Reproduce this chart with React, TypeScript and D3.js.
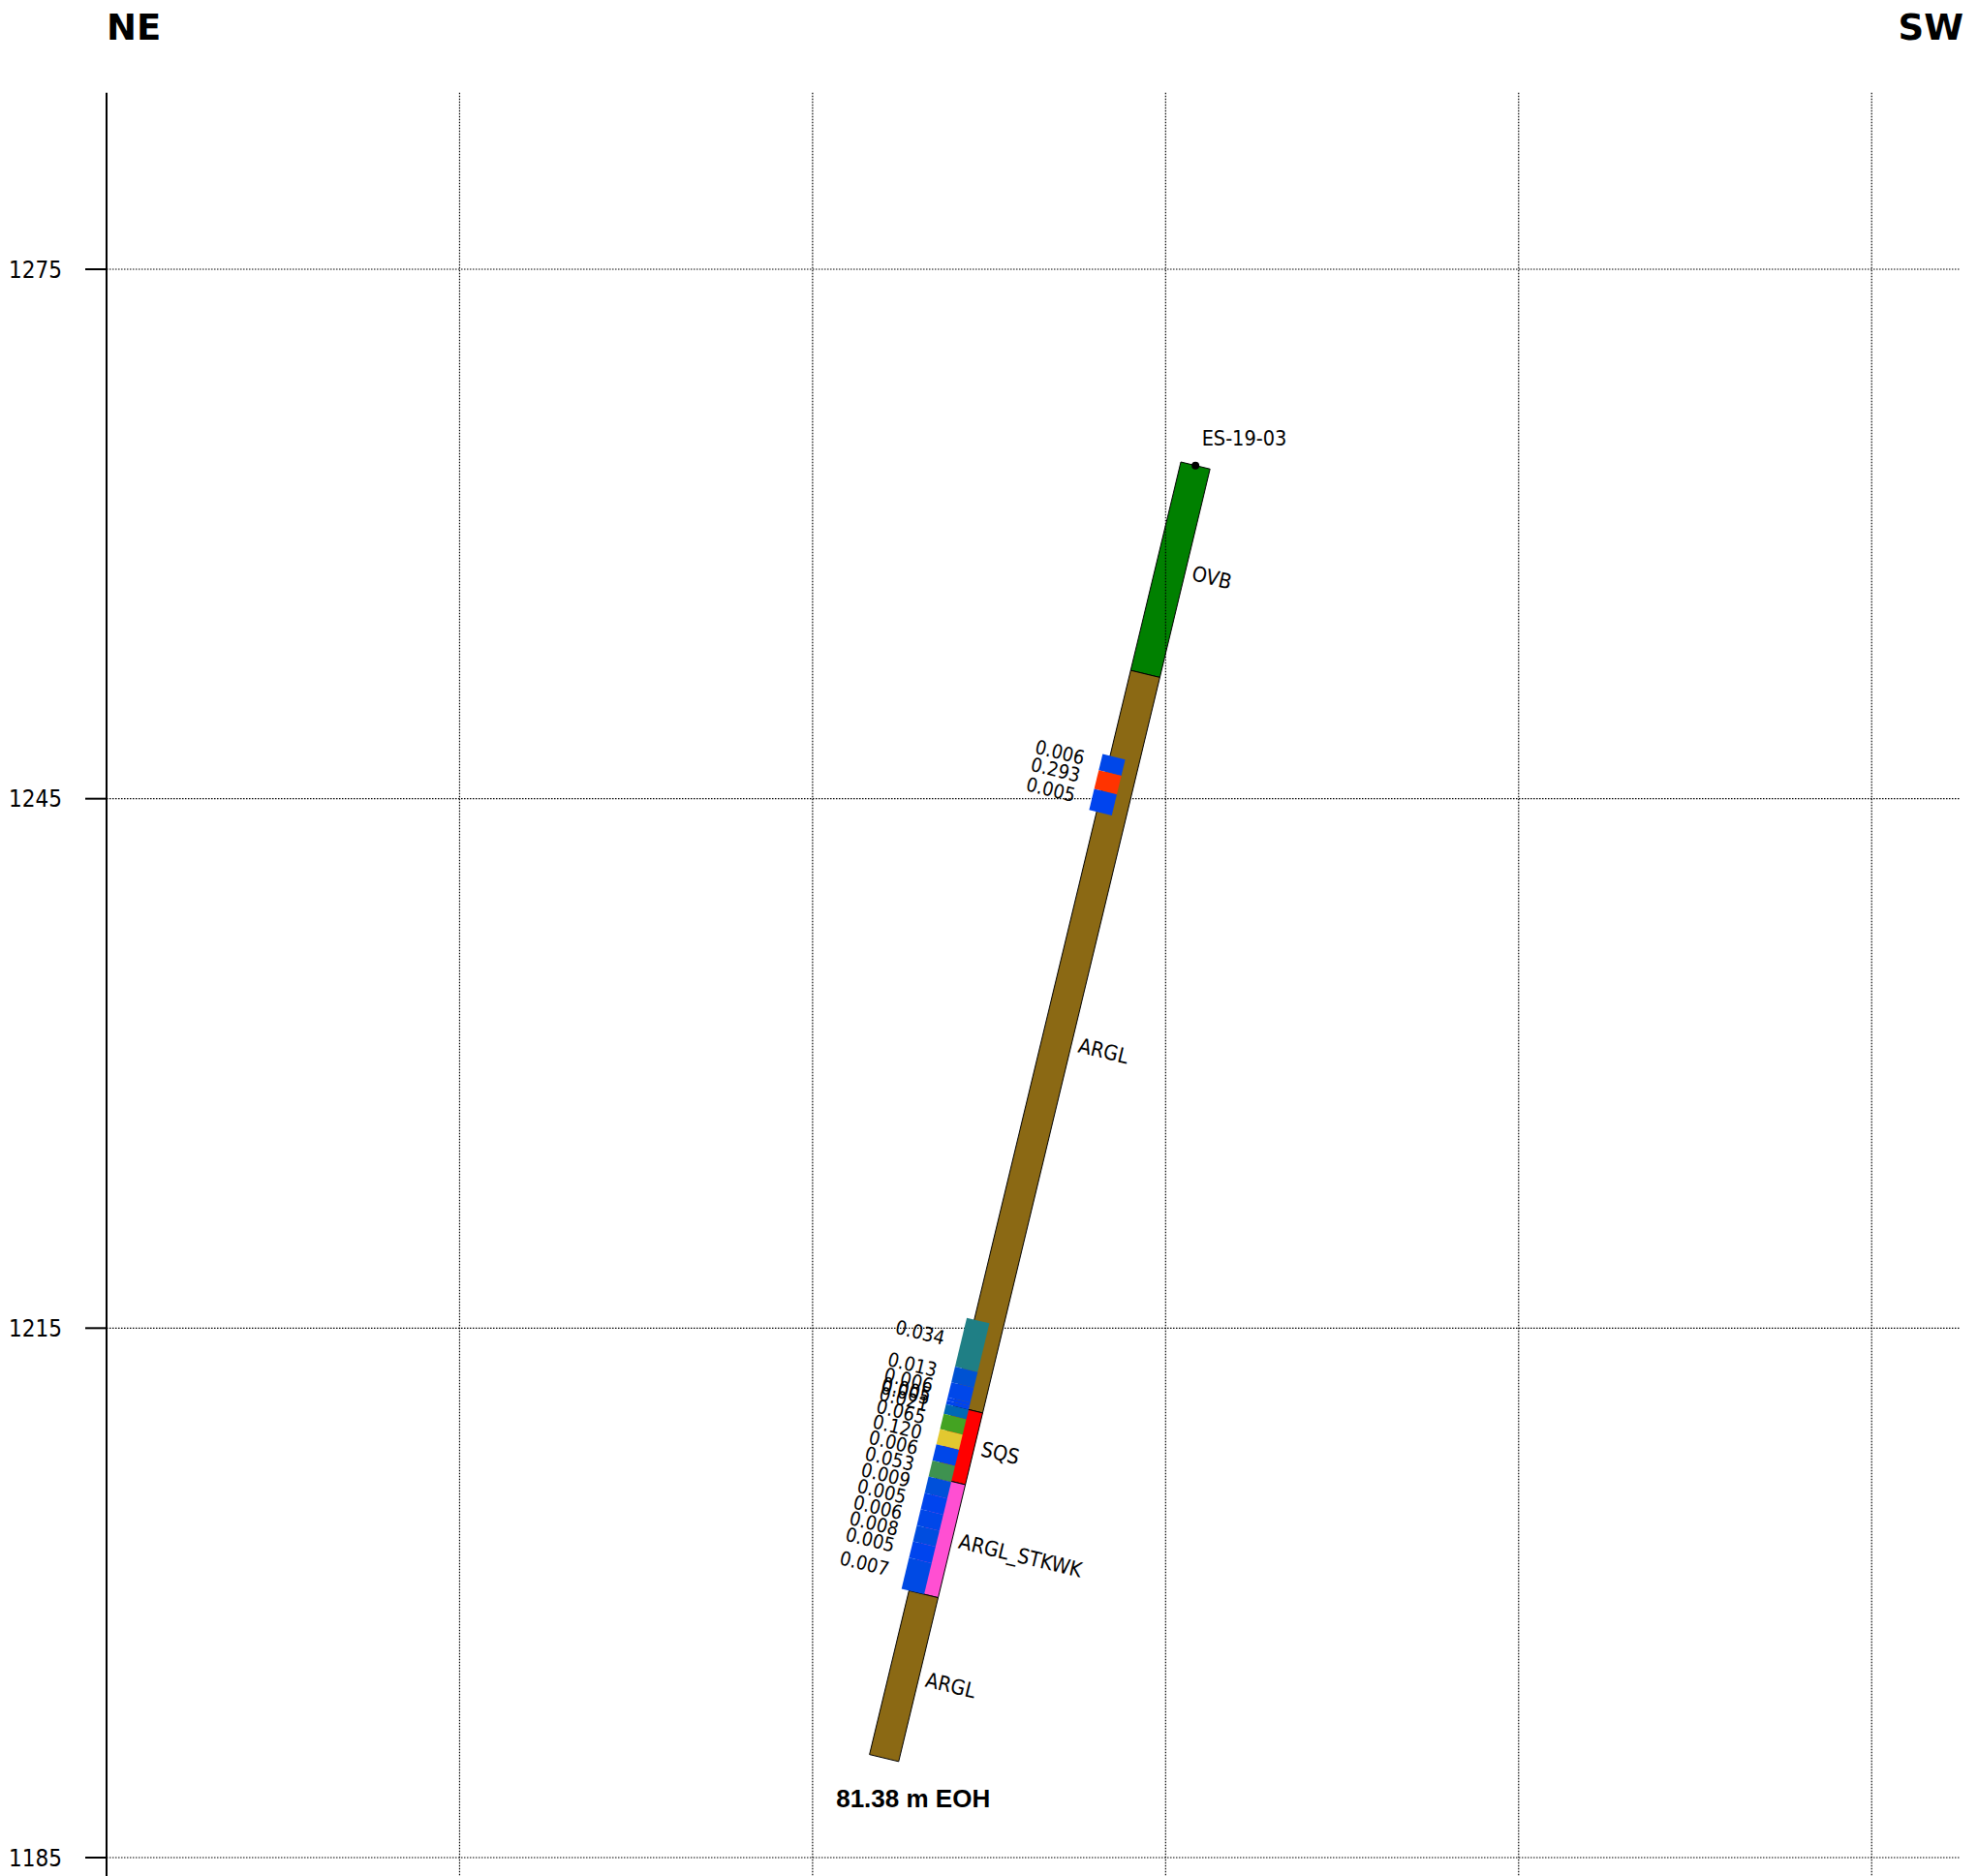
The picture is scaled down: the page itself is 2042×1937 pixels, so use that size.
import React from 'react';
import * as d3 from 'd3';

const W = 2042;
const H = 1937;

// Axis / grid values
const elevTicks = [1185, 1215, 1245, 1275];
const distGrid = [0, 20, 40, 60, 80, 100];
const elevDomain = [1185, 1275];
const distDomain = [0, 105];
const elevTop = 1285;

// Drill hole
const holeId = 'ES-19-03';
const holeLength = 81.38;
const collarDist = 61.69;
const collarElev = 1263.88;
const eohDist = 44.05;
const eohElev = 1190.64;

// Lithology intervals (m along hole)
const lithFrom = [0, 13.12, 59.43, 63.95, 71.06];
const lithTo = [13.12, 59.43, 63.95, 71.06, 81.38];
const lithCode = ['OVB', 'ARGL', 'SQS', 'ARGL_STKWK', 'ARGL'];
const lithColor: Record<string, string> = {
  OVB: '#008000',
  ARGL: '#8B6914',
  SQS: '#FF0000',
  ARGL_STKWK: '#FF4FD2',
};

// Assay intervals (m along hole) and values
const assayFrom = [18.5, 19.52, 20.7, 54.0, 57.07, 58.05, 59.0, 59.2, 59.43, 60.04, 61.0, 61.96, 62.98, 63.99, 65.03, 66.05, 67.06, 68.07, 69.1];
const assayTo = [19.52, 20.7, 22.02, 57.07, 58.05, 59.0, 59.2, 59.43, 60.04, 61.0, 61.96, 62.98, 63.99, 65.03, 66.05, 67.06, 68.07, 69.1, 71.06];
const assayValue = [0.006, 0.293, 0.005, 0.034, 0.013, 0.006, 0.005, 0.005, 0.021, 0.065, 0.12, 0.006, 0.053, 0.009, 0.005, 0.006, 0.008, 0.005, 0.007];

// Assay colour ramp
const rampStops = [0.005, 0.009, 0.013, 0.021, 0.034, 0.053, 0.065, 0.12, 0.293];
const rampColors = ['#0044EE', '#0050DA', '#0052D2', '#0068B4', '#1F7F85', '#3E9250', '#44A322', '#E2C830', '#FF3300'];

const FONT = "'DejaVu Sans Condensed', 'DejaVu Sans', sans-serif";

export default function App() {
  const x = d3.scaleLinear().domain(distDomain).range([110, 110 + 105 * (1640 / 90)]);
  const y = d3.scaleLinear().domain(elevDomain).range([1918, 278]);
  const color = d3.scaleLinear<string>().domain(rampStops).range(rampColors).clamp(true);

  const c = [x(collarDist), y(collarElev)];
  const e = [x(eohDist), y(eohElev)];
  const len = Math.hypot(e[0] - c[0], e[1] - c[1]);
  const u = [(e[0] - c[0]) / len, (e[1] - c[1]) / len];
  const n = [u[1], -u[0]]; // perpendicular pointing right (SW)
  const angle = (Math.atan2(n[1], n[0]) * 180) / Math.PI;

  const pos = (d: number, off: number) => {
    const t = d / holeLength;
    return [c[0] + (e[0] - c[0]) * t + n[0] * off, c[1] + (e[1] - c[1]) * t + n[1] * off];
  };
  const poly = (d1: number, d2: number, a: number, b: number) =>
    [pos(d1, a), pos(d1, b), pos(d2, b), pos(d2, a)].map((p) => p.join(',')).join(' ');

  const plotLeft = x(0);
  const plotRight = x(105);
  const plotTop = y(elevTop);

  const halfW = 15.5;

  return (
    <svg width={W} height={H} style={{ position: 'absolute', left: 0, top: 0, background: '#fff' }} fontFamily={FONT}>
      <rect x={0} y={0} width={W} height={H} fill="#fff" />
      {/* horizontal grid */}
      {elevTicks.map((t) => (
        <line key={'h' + t} x1={plotLeft} x2={plotRight} y1={y(t)} y2={y(t)} stroke="#000" strokeWidth={1.2} strokeDasharray="1.5,1.5" />
      ))}

      {/* lithology */}
      {lithCode.map((code, i) => (
        <polygon key={'l' + i} points={poly(lithFrom[i], lithTo[i], -halfW, halfW)} fill={lithColor[code]} stroke="#000" strokeWidth={1} />
      ))}
      {/* assays */}
      {assayValue.map((v, i) => (
        <polygon key={'a' + i} points={poly(assayFrom[i], assayTo[i], -23.4, 0.6)} fill={color(v)} stroke="none" />
      ))}

      {/* vertical grid */}
      {distGrid.slice(1).map((g) => (
        <line key={'v' + g} x1={x(g)} x2={x(g)} y1={plotTop} y2={H} stroke="#000" strokeWidth={1.2} strokeDasharray="1.5,1.5" />
      ))}

      {/* lithology labels */}
      {lithCode.map((code, i) => {
        const p = pos((lithFrom[i] + lithTo[i]) / 2, 23);
        return (
          <text key={'lt' + i} x={p[0]} y={p[1]} dy="0.25em" fontSize={21.5} fontStretch="condensed" textAnchor="start" transform={`rotate(${angle},${p[0]},${p[1]})`}>
            {code}
          </text>
        );
      })}
      {/* assay labels */}
      {assayValue.map((v, i) => {
        const p = pos((assayFrom[i] + assayTo[i]) / 2, -41);
        return (
          <text key={'at' + i} x={p[0]} y={p[1]} dy="0.35em" fontSize={20} fontStretch="condensed" textAnchor="end" transform={`rotate(${angle},${p[0]},${p[1]})`}>
            {v.toFixed(3)}
          </text>
        );
      })}

      {/* collar */}
      <circle cx={c[0]} cy={c[1]} r={4} fill="#000" />
      <text x={c[0] + 6.5} y={c[1] - 21} fontSize={21.5} fontStretch="condensed">{holeId}</text>
      <text x={e[0] + 30} y={e[1] + 51} fontSize={26} fontWeight="bold" textAnchor="middle" fontFamily="'Liberation Sans', Arial, sans-serif">
        {`${holeLength.toFixed(2)} m EOH`}
      </text>

      {/* axis */}
      <line x1={plotLeft} x2={plotLeft} y1={plotTop} y2={H} stroke="#000" strokeWidth={2} />
      {elevTicks.map((t) => (
        <g key={'t' + t}>
          <line x1={plotLeft - 22} x2={plotLeft} y1={y(t)} y2={y(t)} stroke="#000" strokeWidth={2} />
          <text x={64} y={y(t)} dy="0.36em" fontSize={24} fontStretch="condensed" textAnchor="end">{t}</text>
        </g>
      ))}

      {/* direction labels */}
      <text x={110} y={41} fontSize={37} fontWeight="bold" fontFamily="'DejaVu Sans', sans-serif">NE</text>
      <text x={2027} y={41} fontSize={37} fontWeight="bold" textAnchor="end" fontFamily="'DejaVu Sans', sans-serif">SW</text>
    </svg>
  );
}
